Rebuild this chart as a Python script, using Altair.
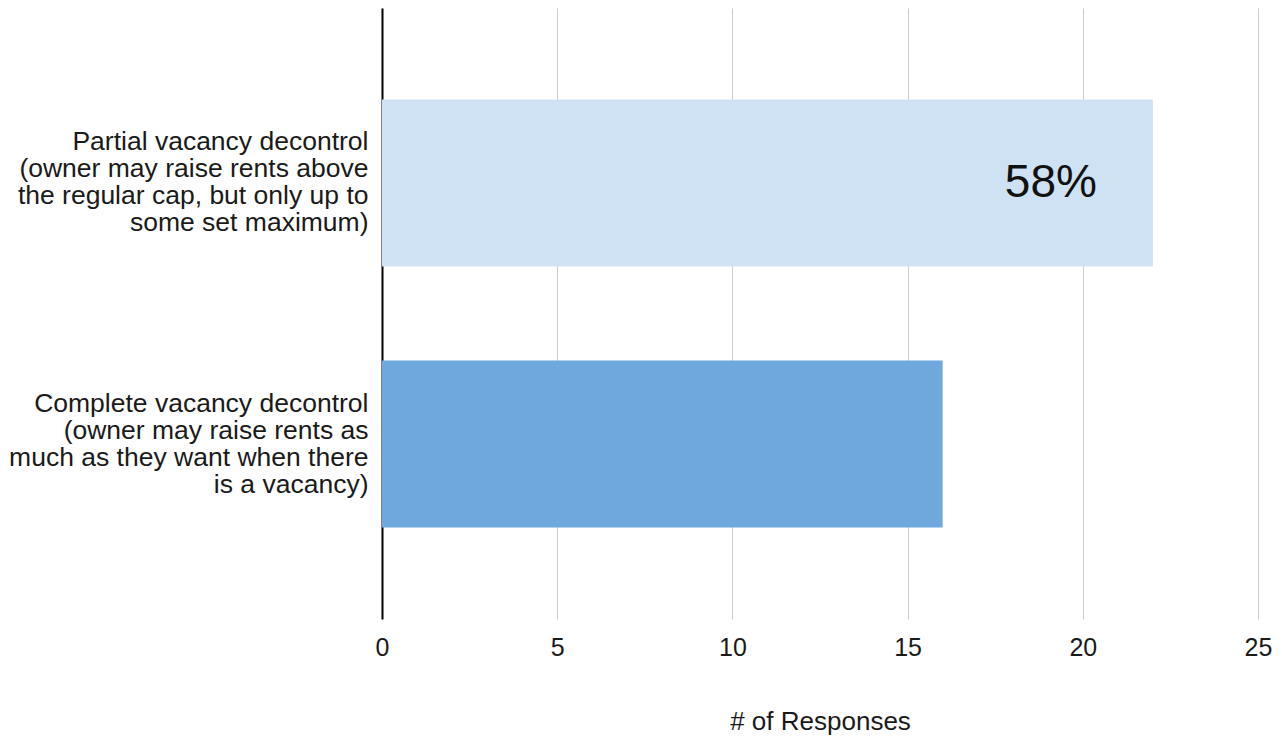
import altair as alt
import pandas as pd

categories = [
    "Partial vacancy decontrol\n(owner may raise rents above\nthe regular cap, but only up to\nsome set maximum)",
    "Complete vacancy decontrol\n(owner may raise rents as\nmuch as they want when there\nis a vacancy)",
]
responses = [22, 16]
bar_colors = ["#cfe2f3", "#6fa8dc"]
pct_labels = ["58%", ""]
x_ticks = [0, 5, 10, 15, 20, 25]

df = pd.DataFrame({
    "category": categories,
    "responses": responses,
    "color": bar_colors,
    "pct": pct_labels,
})

FONT = "Liberation Sans"

y_enc = alt.Y(
    "category:N",
    sort=categories,
    title=None,
    scale=alt.Scale(paddingInner=0.36, paddingOuter=0.35),
    axis=alt.Axis(
        labelExpr="split(datum.label, '\\n')",
        labelFontSize=26.5,
        labelLineHeight=27,
        labelFont=FONT,
        labelColor="#1a1a1a",
        labelPadding=14,
        labelOffset=-40.5,
        ticks=False,
        domain=True,
        domainColor="#000000",
        domainWidth=2,
        labelLimit=600,
    ),
)

x_enc = alt.X(
    "responses:Q",
    title="# of Responses",
    scale=alt.Scale(domain=[0, 25], nice=False),
    axis=alt.Axis(
        values=x_ticks,
        grid=True,
        gridColor="#cccccc",
        gridWidth=1,
        domain=False,
        ticks=False,
        labelFlush=False,
        labelFontSize=25,
        labelFont=FONT,
        labelColor="#1a1a1a",
        labelPadding=16,
        titleFontSize=26,
        titleFont=FONT,
        titleFontWeight="normal",
        titleColor="#1a1a1a",
        titlePadding=48,
    ),
)

bars = alt.Chart(df).mark_bar().encode(
    x=x_enc,
    y=y_enc,
    color=alt.Color("color:N", scale=None, legend=None),
)

text = alt.Chart(df).mark_text(
    align="right", baseline="middle", dx=-56, fontSize=46, font=FONT, color="#111111"
).encode(
    x=alt.X("responses:Q"),
    y=alt.Y("category:N", sort=categories),
    text="pct:N",
)

chart = (
    alt.layer(bars, text)
    .properties(
        width=876,
        height=611,
        autosize=alt.AutoSizeParams(type="none"),
        padding={"left": 374, "top": 0, "right": 16, "bottom": 116},
        background="white",
    )
    .configure_view(stroke=None)
)

chart.save("out.html", embed_options={"renderer": "svg", "actions": False})
